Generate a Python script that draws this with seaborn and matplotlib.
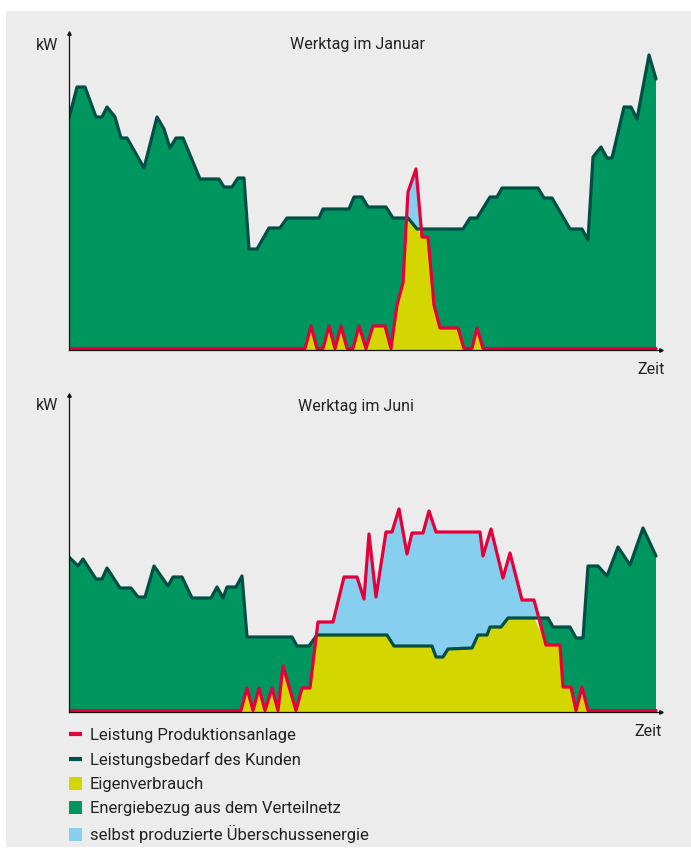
import numpy as np
import matplotlib
matplotlib.use("Agg")
from matplotlib import pyplot as plt
from matplotlib.lines import Line2D
from matplotlib.patches import Patch, Rectangle
import seaborn as sns

# Zeitachse ohne Einheit (0 = Tagesbeginn, 587 = Tagesende), Leistung in kW (relativ)
# Werktag im Januar
zeit_bedarf_jan = [0, 8, 16, 27, 33, 38, 46, 52, 58, 75, 88, 95, 101, 107, 114, 131, 150, 155,
                   163, 169, 175, 180, 188, 200, 211, 218, 250, 254, 280, 285, 293, 299, 317,
                   324, 339, 348, 394, 401, 408, 421, 428, 433, 469, 475, 483, 501, 513, 519,
                   524, 532, 538, 543, 555, 562, 568, 580, 587]
bedarf_jan = [232, 263, 263, 233, 233, 243, 233, 212, 212, 182, 233, 221, 202, 212, 212, 171, 171,
              163, 163, 172, 172, 101, 101, 122, 122, 132, 132, 141, 141, 153, 153, 143, 143, 132,
              132, 121, 121, 132, 132, 153, 153, 162, 162, 152, 152, 121, 121, 110, 193, 203, 192,
              192, 243, 243, 231, 295, 271]
zeit_prod_jan = [0, 236, 242, 248, 254, 260, 266, 272, 278, 284, 290, 297, 304, 316, 322, 328, 334,
                 339, 347, 353, 359, 365, 371, 389, 395, 403, 408, 414, 587]
prod_jan = [1.5, 1.5, 24, 1.5, 1.5, 24, 1.5, 24, 1.5, 1.5, 24, 1.5, 24, 24, 1.5, 45, 67, 158, 181,
            113, 113, 45, 22, 22, 1.5, 1.5, 22, 1.5, 1.5]

# Werktag im Juni
zeit_bedarf_jun = [0, 9, 14, 27, 33, 38, 51, 62, 69, 76, 85, 99, 104, 113, 123, 142, 148, 154,
                   158, 167, 173, 178, 223, 228, 240, 248, 318, 325, 363, 367, 374, 379, 403,
                   409, 418, 421, 432, 439, 479, 484, 501, 507, 514, 519, 529, 538, 549, 561,
                   574, 587]
bedarf_jun = [155, 146, 153, 133, 133, 144, 124, 124, 115, 115, 146, 126, 135, 135, 114, 114, 125,
              114, 125, 125, 136, 75, 75, 66, 66, 77, 77, 66, 66, 55, 55, 63, 64, 77, 77, 85, 85,
              94, 94, 85, 85, 74, 74, 146, 146, 136, 165, 147, 184, 156]
zeit_prod_jun = [0, 172, 178, 184, 190, 196, 203, 209, 214, 227, 233, 241, 249, 264, 275, 288,
                 295, 300, 307, 317, 323, 330, 338, 343, 354, 360, 367, 411, 414, 422, 434, 441,
                 453, 465, 477, 491, 494, 502, 507, 513, 519, 587]
prod_jun = [1.5, 1.5, 24, 1.5, 24, 1.5, 24, 1.5, 46, 1.5, 24, 24, 90, 90, 135, 135, 113, 178, 115,
            180, 180, 203, 158, 179, 179, 201, 180, 180, 156, 183, 134, 159, 112, 112, 67, 67, 25,
            25, 1.5, 25, 1.5, 1.5]

titel = ["Werktag im Januar", "Werktag im Juni"]
legende = ["Leistung Produktionsanlage", "Leistungsbedarf des Kunden", "Eigenverbrauch",
           "Energiebezug aus dem Verteilnetz", "selbst produzierte Überschussenergie"]

GRUEN = "#00965f"
DUNKEL = "#004f44"
ROT = "#e4003b"
GELB = "#d4d600"
BLAU = "#87cfee"
GRAU = "#ececec"
TEXT = "#222222"

sns.set_theme(style="white")
plt.rcParams["font.family"] = ["Roboto", "DejaVu Sans"]

W, H = 691, 850
fig = plt.figure(figsize=(W / 100, H / 100), dpi=100)
fig.patch.set_facecolor("white")
fig.patches.append(Rectangle((6 / W, 3 / H), 1 - 6 / W, 1 - 14 / H, transform=fig.transFigure,
                             facecolor=GRAU, edgecolor="none", zorder=-10))


def px(x, y):
    return x / W, 1 - y / H


def panel(rect_px, zb, b, zp, p):
    left, top, right, bottom = rect_px
    ax = fig.add_axes([left / W, 1 - bottom / H, (right - left) / W, (bottom - top) / H])
    ax.set_facecolor("none")
    xs = np.union1d(zb, zp)
    bb = np.interp(xs, zb, b)
    pp = np.interp(xs, zp, p)
    low = np.minimum(bb, pp)
    ax.fill_between(xs, 0, low, color=GELB, lw=0, zorder=1)
    ax.fill_between(xs, pp, bb, where=bb >= pp, interpolate=True, color=GRUEN, lw=0, zorder=1)
    ax.fill_between(xs, bb, pp, where=pp >= bb, interpolate=True, color=BLAU, lw=0, zorder=1)
    sns.lineplot(x=zb, y=b, ax=ax, color=DUNKEL, lw=2.3, estimator=None, sort=False, zorder=2)
    sns.lineplot(x=zp, y=p, ax=ax, color=ROT, lw=2.3, estimator=None, sort=False, zorder=2.1)
    ax.set_xlim(0, right - left)
    ax.set_ylim(0, bottom - top)
    ax.set_xticks([])
    ax.set_yticks([])
    for s in ["top", "right"]:
        ax.spines[s].set_visible(False)
    for s in ["left", "bottom"]:
        ax.spines[s].set_color("#111111")
        ax.spines[s].set_linewidth(0.9)
        ax.spines[s].set_zorder(3)
    ax.plot(1, 0, ">", color="#111111", ms=2.5, transform=ax.transAxes, clip_on=False)
    ax.plot(0, 1, "^", color="#111111", ms=2.5, transform=ax.transAxes, clip_on=False)
    return ax


ax1 = panel((69, 33, 661, 350), zeit_bedarf_jan, bedarf_jan, zeit_prod_jan, prod_jan)
ax2 = panel((69, 395, 661, 712), zeit_bedarf_jun, bedarf_jun, zeit_prod_jun, prod_jun)

fs = 11.5
for (x, y), s in [((47, 45), "kW"), ((358, 45), titel[0]), ((651, 369), "Zeit"),
                  ((47, 406), "kW"), ((356, 406), titel[1]), ((648, 731), "Zeit")]:
    fig.text(*px(x, y), s, ha="center", va="center", fontsize=fs, color=TEXT)

handles = [Line2D([], [], color=ROT, lw=3, solid_capstyle="butt"),
           Line2D([], [], color=DUNKEL, lw=3, solid_capstyle="butt"),
           Patch(facecolor=GELB, edgecolor="none"),
           Patch(facecolor=GRUEN, edgecolor="none"),
           Patch(facecolor=BLAU, edgecolor="none")]
fig.legend(handles, legende, loc="upper left", bbox_to_anchor=px(69, 728), frameon=False,
           fontsize=12, handlelength=0.75, handleheight=0.85, handletextpad=0.5,
           labelspacing=0.52, borderaxespad=0, borderpad=0, labelcolor=TEXT)

fig.savefig("out.png", dpi=100, facecolor="white")
